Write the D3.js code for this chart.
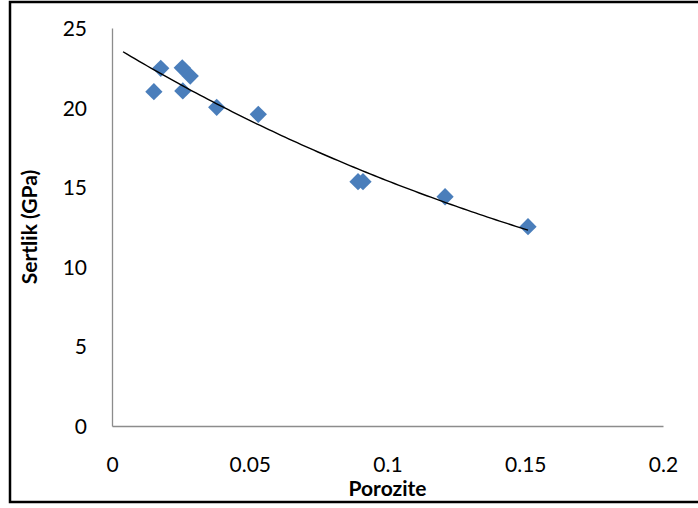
<!DOCTYPE html>
<html>
<head>
<meta charset="utf-8">
<script src="https://cdn.jsdelivr.net/npm/d3@7"></script>
<style>
  html, body { margin: 0; padding: 0; background: #fff; }
  svg { display: block; }
  text { font-family: Lato, "Open Sans", sans-serif; fill: #000; }
</style>
</head>
<body>
<svg id="chart" width="698" height="508"></svg>
<script>
// Measured porosity (fraction) and hardness (GPa)
const porosity = [0.0152, 0.0177, 0.0255, 0.0284, 0.0257, 0.0380, 0.0531, 0.0893, 0.0911, 0.1209, 0.1510];
const hardness = [21.0, 22.47, 22.5, 21.98, 21.05, 20.02, 19.58, 15.35, 15.35, 14.40, 12.52];

const xTicks = [0, 0.05, 0.1, 0.15, 0.2];
const yTicks = [0, 5, 10, 15, 20, 25];
const xTitle = "Porozite";
const yTitle = "Sertlik (GPa)";
// Exponential trend line extends back to this porosity
const trendStart = 0.004;

const svg = d3.select("#chart");

// outer frame
svg.append("rect")
  .attr("x", 10).attr("y", 2)
  .attr("width", 700).attr("height", 500)
  .attr("fill", "none").attr("stroke", "#000").attr("stroke-width", 2.5);

const x = d3.scaleLinear().domain([0, 0.2]).range([112, 663]);
const y = d3.scaleLinear().domain([0, 25]).range([426, 28]);

// axes (no tick marks, grey lines)
const xAxis = svg.append("g").attr("transform", `translate(0,${y(0)})`)
  .call(d3.axisBottom(x).tickValues(xTicks).tickSize(0).tickPadding(0)
    .tickFormat(d => d === 0 ? "0" : String(d)));
xAxis.select(".domain").attr("stroke", "#8c8c8c").attr("stroke-width", 1.3);
xAxis.selectAll("text")
  .attr("y", 46).attr("dy", null)
  .style("font-size", "21px").attr("text-anchor", "middle");

const yAxis = svg.append("g").attr("transform", `translate(${x(0)},0)`)
  .call(d3.axisLeft(y).tickValues(yTicks).tickSize(0).tickPadding(0));
yAxis.select(".domain").attr("stroke", "#8c8c8c").attr("stroke-width", 1.3);
yAxis.selectAll("text")
  .attr("x", -25).attr("dy", "0.36em")
  .style("font-size", "21px").attr("text-anchor", "end");

// axis titles
svg.append("text")
  .attr("x", (x(0) + x(0.2)) / 2).attr("y", 496)
  .attr("text-anchor", "middle")
  .style("font-size", "21px").style("font-weight", "bold")
  .text(xTitle);

svg.append("text")
  .attr("transform", `translate(37,${(y(0) + y(25)) / 2}) rotate(-90)`)
  .attr("text-anchor", "middle")
  .style("font-size", "21px").style("font-weight", "bold")
  .text(yTitle);

// least-squares exponential fit y = a * exp(b x)
const n = porosity.length;
const lny = hardness.map(v => Math.log(v));
const mx = d3.mean(porosity), my = d3.mean(lny);
let sxy = 0, sxx = 0;
for (let i = 0; i < n; i++) {
  sxy += (porosity[i] - mx) * (lny[i] - my);
  sxx += (porosity[i] - mx) ** 2;
}
const b = sxy / sxx;
const a = Math.exp(my - b * mx);
const xEnd = d3.max(porosity);
const trendPts = d3.range(0, 101).map(k => {
  const px = trendStart + (xEnd - trendStart) * k / 100;
  return [px, a * Math.exp(b * px)];
});

// data points (diamonds)
const diamond = d3.symbol().type(d3.symbolDiamond2).size(190);
svg.append("g").selectAll("path")
  .data(porosity.map((p, i) => [p, hardness[i]]))
  .join("path")
  .attr("d", diamond)
  .attr("transform", d => `translate(${x(d[0])},${y(d[1])})`)
  .attr("fill", "#4a7ebb");

svg.append("path")
  .datum(trendPts)
  .attr("fill", "none")
  .attr("stroke", "#000")
  .attr("stroke-width", 1.4)
  .attr("d", d3.line().x(d => x(d[0])).y(d => y(d[1])));
</script>
</body>
</html>
